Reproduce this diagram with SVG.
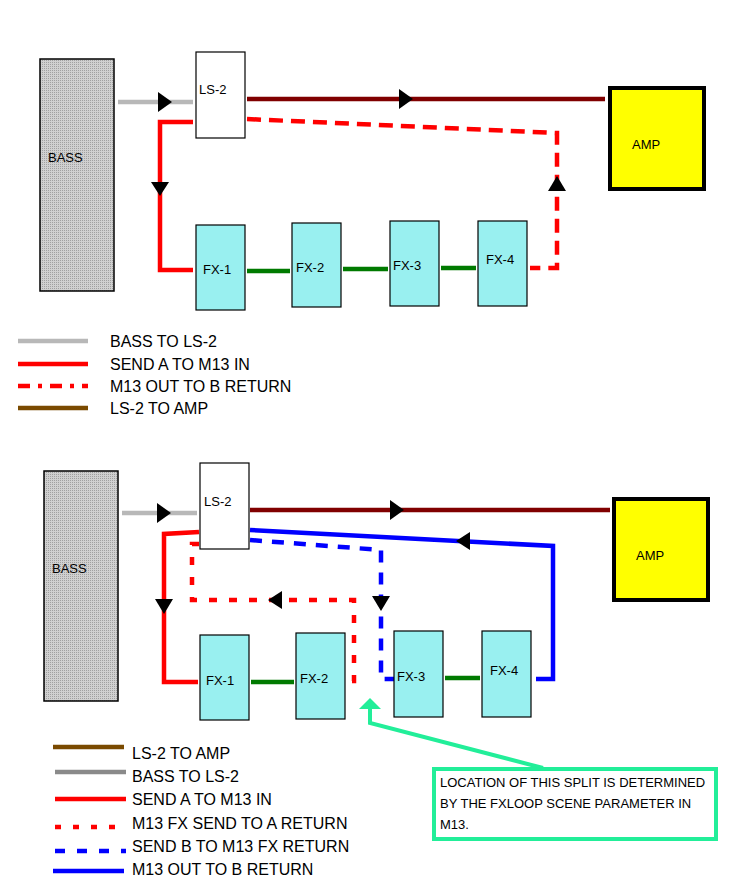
<svg xmlns="http://www.w3.org/2000/svg" width="737" height="893" viewBox="0 0 737 893">
<style>
text{font-family:"Liberation Sans",Arial,sans-serif;fill:#000}
.lbl{font-size:13px}
.leg{font-size:16px}
.bass{stroke:#000;stroke-width:1.5}
.ls{fill:#fff;stroke:#000;stroke-width:1.2}
.fx{fill:#99f0f0;stroke:#000;stroke-width:1.2}
.amp{fill:#ffff00;stroke:#000;stroke-width:4}
.l{fill:none;stroke-width:4.5;stroke-linejoin:miter}
.gray{stroke:#b8b8b8}
.dred{stroke:#800000}
.red{stroke:#ff0000}
.grn{stroke:#007a00}
.blue{stroke:#0000ff}
.brn{stroke:#7a4a00}
.lgray{stroke:#8a8a8a}
.dash{stroke-dasharray:14,8}
.dot{stroke-dasharray:8,12}
.bdash{stroke-dasharray:12,10}
.ah{fill:#000}
</style>
<defs>
<pattern id="dots" width="2" height="2" patternUnits="userSpaceOnUse"><rect width="2" height="2" fill="#d0d0d0"/><rect width="1" height="1" fill="#a0a0a0"/></pattern>
</defs>
<g id="connectors">
<path class="l gray" d="M118 102H193"/>
<path class="l dred" d="M247 99H605"/>
<path class="l red" d="M193 122H160V270H193"/>
<path class="l red dash" d="M247 119L557 133V268H530"/>
<path class="l grn" d="M247 271H290M343 269H388M441 268H476"/>
<polygon class="ah" points="158,92 158,112 172,102"/>
<polygon class="ah" points="399,89 399,109 413,99"/>
<polygon class="ah" points="151,182 169,182 160,196"/>
<polygon class="ah" points="548,191 566,191 557,176"/>
<path class="l gray" d="M122 513H197"/>
<path class="l dred" d="M250 510H610"/>
<path class="l red" d="M199 532L164 534V682H198"/>
<path class="l red dot" d="M199 544H192V600H354V681H346"/>
<path class="l blue bdash" d="M250 540L381 550V679H395"/>
<path class="l blue" d="M250 530L553 546V679H536"/>
<path class="l grn" d="M251 682H294M445 678H480"/>
<polygon class="ah" points="157,503 157,523 171,513"/>
<polygon class="ah" points="390,500 390,520 404,510"/>
<polygon class="ah" points="155,599 173,599 164,614"/>
<polygon class="ah" points="268,600 282,591 282,609"/>
<polygon class="ah" points="372,596 390,596 381,611"/>
<polygon class="ah" points="456,541 470,532 470,550"/>
<path fill="none" stroke="#22ee99" stroke-width="4" d="M370 708V723L543 768"/>
<polygon fill="#22ee99" points="359,709 381,709 370,698"/>
</g>
<g id="bass1"><rect class="bass" x="40" y="59" width="74" height="232" fill="url(#dots)"/><text class="lbl" x="48" y="162">BASS</text></g>
<g id="ls2-1"><rect class="ls" x="196" y="52" width="49" height="86"/><text class="lbl" x="199" y="94">LS-2</text></g>
<g id="amp1"><rect class="amp" x="610" y="88" width="94" height="101"/><text class="lbl" x="632" y="149">AMP</text></g>
<g id="fx1-1"><rect class="fx" x="196" y="225" width="49" height="85"/><text class="lbl" x="203" y="274">FX-1</text></g>
<g id="fx2-1"><rect class="fx" x="292" y="223" width="49" height="84"/><text class="lbl" x="296" y="272">FX-2</text></g>
<g id="fx3-1"><rect class="fx" x="390" y="221" width="49" height="85"/><text class="lbl" x="393" y="270">FX-3</text></g>
<g id="fx4-1"><rect class="fx" x="478" y="221" width="49" height="85"/><text class="lbl" x="486" y="264">FX-4</text></g>
<g id="bass2"><rect class="bass" x="44" y="471" width="74" height="230" fill="url(#dots)"/><text class="lbl" x="52" y="573">BASS</text></g>
<g id="ls2-2"><rect class="ls" x="200" y="463" width="49" height="86"/><text class="lbl" x="204" y="506">LS-2</text></g>
<g id="amp2"><rect class="amp" x="614" y="499" width="94" height="101"/><text class="lbl" x="636" y="560">AMP</text></g>
<g id="fx1-2"><rect class="fx" x="200" y="635" width="49" height="85"/><text class="lbl" x="206" y="685">FX-1</text></g>
<g id="fx2-2"><rect class="fx" x="296" y="633" width="49" height="86"/><text class="lbl" x="300" y="683">FX-2</text></g>
<g id="fx3-2"><rect class="fx" x="394" y="631" width="49" height="86"/><text class="lbl" x="397" y="681">FX-3</text></g>
<g id="fx4-2"><rect class="fx" x="482" y="631" width="49" height="86"/><text class="lbl" x="490" y="675">FX-4</text></g>
<g id="note"><rect x="434" y="769" width="282" height="70" fill="#fff" stroke="#22ee99" stroke-width="4"/>
<text class="lbl" x="440" y="787">LOCATION OF THIS SPLIT IS DETERMINED</text>
<text class="lbl" x="440" y="808">BY THE FXLOOP SCENE PARAMETER IN</text>
<text class="lbl" x="440" y="829">M13.</text></g>
<g id="legend1">
<path class="l gray" d="M18 341H88"/><text class="leg" x="110" y="347">BASS TO LS-2</text>
<path class="l red" d="M18 364H88"/><text class="leg" x="110" y="370">SEND A TO M13 IN</text>
<path class="l red" stroke-dasharray="12,8,4,8" d="M18 386H88"/><text class="leg" x="110" y="392">M13 OUT TO B RETURN</text>
<path class="l brn" d="M18 408H88"/><text class="leg" x="110" y="414">LS-2 TO AMP</text>
</g>
<g id="legend2">
<path class="l brn" d="M53 747H124"/><text class="leg" x="132" y="759">LS-2 TO AMP</text>
<path class="l lgray" d="M55 772H126"/><text class="leg" x="132" y="782">BASS TO LS-2</text>
<path class="l red" d="M55 799H126"/><text class="leg" x="132" y="805">SEND A TO M13 IN</text>
<path class="l red" stroke-dasharray="6,12" d="M55 827H126"/><text class="leg" x="132" y="829">M13 FX SEND TO A RETURN</text>
<path class="l blue" stroke-dasharray="10,12" d="M55 851H126"/><text class="leg" x="132" y="852">SEND B TO M13 FX RETURN</text>
<path class="l blue" d="M53 871H124"/><text class="leg" x="132" y="875">M13 OUT TO B RETURN</text>
</g>
</svg>
